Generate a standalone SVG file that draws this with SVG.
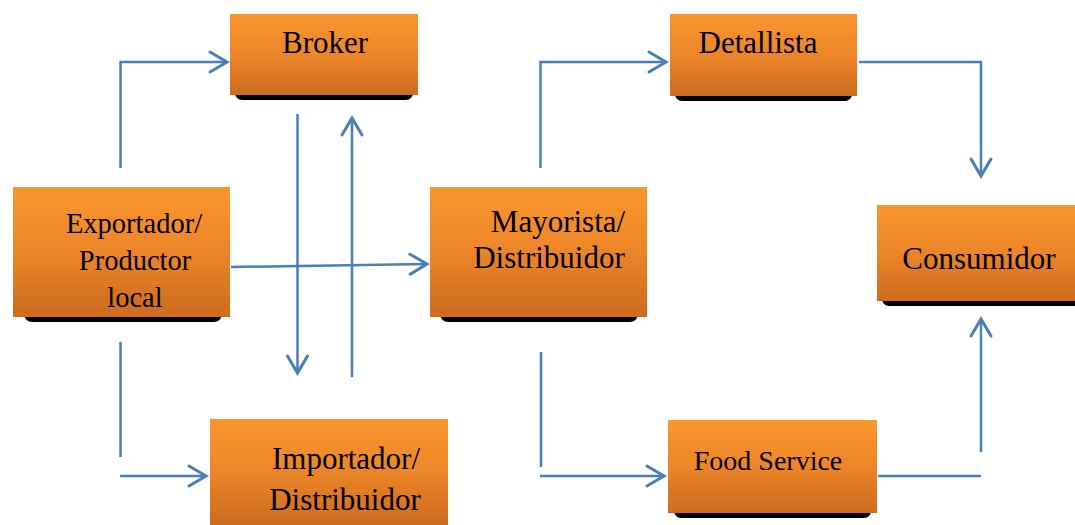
<svg xmlns="http://www.w3.org/2000/svg" width="1075" height="525" viewBox="0 0 1075 525">
<defs>
<linearGradient id="og" x1="0" y1="0" x2="0" y2="1">
<stop offset="0" stop-color="#fa962f"/>
<stop offset="0.5" stop-color="#ec8528"/>
<stop offset="1" stop-color="#cd6b1f"/>
</linearGradient>
<marker id="ah" markerUnits="userSpaceOnUse" markerWidth="24" markerHeight="26" viewBox="-2 -3 22 26" refX="17" refY="10" orient="auto">
<path d="M0,0 L17,10 L0,20" fill="none" stroke="#4a7ebb" stroke-width="3" stroke-linejoin="miter" stroke-linecap="round"/>
</marker>
<style>
.box{fill:url(#og);}
.sh{fill:#000;}
.t{font-family:"Liberation Serif","Times New Roman",serif;font-size:31px;fill:#000;text-anchor:middle;}
.ts{font-size:28px;}
.te{font-size:28.5px;}
.c{fill:none;stroke:#4a7ebb;stroke-width:2.5;}
.a{marker-end:url(#ah);}
</style>
</defs>
<rect width="1075" height="525" fill="#fff"/>
<g id="connectors">
<path class="c a" d="M120.5,168 V62 H227"/>
<path class="c a" d="M297.5,114 V373"/>
<path class="c a" d="M352,377 V118"/>
<path class="c a" d="M231,267 L427,264"/>
<path class="c" d="M120.5,342 V457"/>
<path class="c a" d="M120,476 H206"/>
<path class="c a" d="M540.5,168 V62 H666"/>
<path class="c a" d="M859,62 H981 V176"/>
<path class="c" d="M541,352 V467"/>
<path class="c a" d="M540,476 H664"/>
<path class="c" d="M878,476 H981"/>
<path class="c a" d="M981,452 V319"/>
</g>
<g id="broker">
<rect class="sh" x="235" y="86" width="178" height="14" rx="7"/>
<rect class="box" x="230" y="14" width="188" height="81"/>
<text class="t" x="325" y="53">Broker</text>
</g>
<g id="exportador">
<rect class="sh" x="24" y="306" width="198" height="16" rx="8"/>
<rect class="box" x="13" y="187" width="217" height="130"/>
<text class="t te" x="134" y="233">Exportador/</text>
<text class="t te" x="135" y="270">Productor</text>
<text class="t te" x="135" y="307">local</text>
</g>
<g id="mayorista">
<rect class="sh" x="440" y="306" width="198" height="16" rx="8"/>
<rect class="box" x="430" y="187" width="217" height="130"/>
<text class="t" x="558" y="232">Mayorista/</text>
<text class="t" x="549" y="268">Distribuidor</text>
</g>
<g id="detallista">
<rect class="sh" x="675" y="87" width="177" height="14" rx="7"/>
<rect class="box" x="670" y="14" width="187" height="82"/>
<text class="t" x="758" y="53">Detallista</text>
</g>
<g id="consumidor">
<rect class="sh" x="882" y="292" width="200" height="14" rx="7"/>
<rect class="box" x="877" y="205" width="198" height="96"/>
<text class="t" x="979" y="269">Consumidor</text>
</g>
<g id="foodservice">
<rect class="sh" x="674" y="504" width="197" height="14" rx="7"/>
<rect class="box" x="668" y="420" width="209" height="93"/>
<text class="t ts" x="768" y="470">Food Service</text>
</g>
<g id="importador">
<rect class="box" x="210" y="419" width="238" height="106"/>
<text class="t" x="346" y="469">Importador/</text>
<text class="t" x="345" y="510">Distribuidor</text>
</g>
</svg>
